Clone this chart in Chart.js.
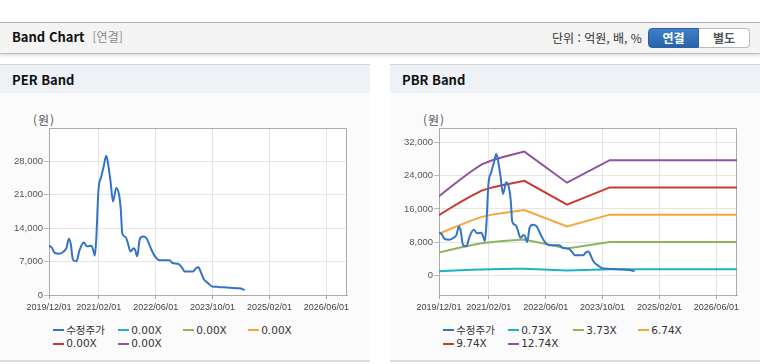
<!DOCTYPE html>
<html lang="ko">
<head>
<meta charset="utf-8">
<title>Band Chart</title>
<script src="https://cdn.jsdelivr.net/npm/chart.js@4.4.1/dist/chart.umd.min.js"></script>
<style>
  html, body { margin: 0; padding: 0; background: #fff; }
  body { width: 760px; height: 364px; position: relative; overflow: hidden; font-family: "Noto Sans CJK KR", "Noto Sans", sans-serif; color: #222; }
  .top-bar { position: absolute; left: 0; top: 22px; width: 760px; height: 30px; background: #f4f4f4; border-top: 1px solid #b0b0b0; border-bottom: 1px solid #bdbdbd; box-shadow: 0 2px 3px rgba(0, 0, 0, 0.12); }
  .top-title { position: absolute; left: 12px; top: 5px; font-size: 13px; font-weight: bold; line-height: 18px; color: #111; }
  .top-title span { color: #8a8a8a; font-weight: normal; font-size: 12px; margin-left: 8px; }
  .unit { position: absolute; left: 552px; top: 6px; font-size: 12px; line-height: 18px; color: #333; }
  .toggle { position: absolute; left: 648px; top: 5px; display: flex; }
  .toggle div { height: 18px; line-height: 18px; text-align: center; font-size: 12px; font-weight: bold; }
  .toggle .on { width: 49px; background: linear-gradient(#3d80c9, #2964aa); color: #fff; border: 1px solid #2a62a5; border-radius: 4px 0 0 4px; }
  .toggle .off { width: 50px; background: #fff; color: #555; border: 1px solid #bbb; border-left: none; border-radius: 0 4px 4px 0; }
  .panel { position: absolute; top: 64px; width: 370px; height: 295px; background: #fbfbfb; border-top: 1px solid #d4d4d4; border-bottom: 2px solid #dcdcdc; }
  .panel-head { height: 28px; line-height: 30px; background: #eef2f7; font-size: 13px; font-weight: bold; padding-left: 12px; color: #111; }
  .unit-label { position: absolute; top: 111px; font-size: 12px; color: #555; letter-spacing: 1px; }
  canvas { position: absolute; top: 100px; }
  .legend { position: absolute; top: 323.6px; width: 270px; display: flex; flex-wrap: wrap; font-family: "DejaVu Sans", "Noto Sans CJK KR", sans-serif; font-size: 10.5px; color: #333; }
  .legend .item { width: 65px; height: 13.4px; line-height: 13.4px; display: flex; align-items: center; white-space: nowrap; }
  .legend .item i { display: inline-block; width: 11px; height: 2px; margin-right: 2.5px; }
</style>
</head>
<body>
<div class="top-bar">
  <div class="top-title">Band Chart<span>[연결]</span></div>
  <div class="unit">단위 : 억원, 배, %</div>
  <div class="toggle"><div class="on">연결</div><div class="off">별도</div></div>
</div>

<div class="panel" style="left:0"><div class="panel-head">PER Band</div></div>
<div class="panel" style="left:390px"><div class="panel-head">PBR Band</div></div>

<div class="unit-label" style="left:33px">(원)</div>
<div class="unit-label" style="left:423px">(원)</div>

<canvas id="perChart" width="370" height="220" style="left:0"></canvas>
<canvas id="pbrChart" width="370" height="220" style="left:390px"></canvas>

<div class="legend" id="perLegend" style="left:52.7px"></div>
<div class="legend" id="pbrLegend" style="left:442.7px"></div>

<script>
// x values are months counted from 2019/12/01
const tickLabels = ["2019/12/01", "2021/02/01", "2022/06/01", "2023/10/01", "2025/02/01", "2026/06/01"];
const xMax = 83.8;

const priceMonths = [0, 0.8, 1.6, 3.0, 4.1, 4.9, 5.6, 6.1, 6.75, 7.7, 8.6, 9.75, 10.7, 11.9, 12.4, 12.9, 13.3, 13.9,
  14.7, 15.4, 16.1, 16.6, 17.3, 18.0, 18.9, 19.7, 20.2, 20.6, 21.6, 22.2, 22.9, 23.8, 24.2, 24.8, 25.5, 26.4,
  27.4, 28.8, 29.7, 31.1, 33.9, 34.7, 36.3, 37.5, 38.1, 40.5, 41.4, 42.0, 42.8, 43.5, 44.7, 45.9, 47.5, 50.8, 53.6, 55.0];
const priceValues = [10400, 9900, 8800, 8650, 9100, 9800, 11800, 10800, 7400, 7050, 9400, 11000, 10200, 10300, 9500, 8300, 11900, 21900,
  24800, 27000, 29200, 27600, 23800, 19600, 22400, 21000, 17800, 12900, 12100, 10800, 9100, 9800, 9500, 8100, 11600, 12250,
  11900, 9500, 8200, 7300, 7300, 6700, 6550, 5650, 4950, 4950, 5650, 5800, 4600, 3350, 2500, 1800, 1700, 1500, 1400, 1050];

const bandMonths = [0, 3, 6, 9, 12, 15, 18, 21, 24, 36, 48, 83.8];
const band073 = [1090, 1210, 1320, 1430, 1530, 1590, 1630, 1670, 1700, 1280, 1590, 1590];
const band373 = [5570, 6170, 6760, 7310, 7810, 8100, 8330, 8520, 8710, 6530, 8110, 8110];
const band674 = [10070, 11150, 12210, 13220, 14120, 14650, 15040, 15390, 15740, 11800, 14650, 14650];
const band974 = [14550, 16120, 17650, 19100, 20410, 21170, 21740, 22250, 22740, 17050, 21170, 21170];
const band1274 = [19030, 21080, 23080, 24980, 26690, 27680, 28440, 29100, 29750, 22300, 27680, 27680];

const priceLabel = "수정주가";
const perBandLabels = ["0.00X", "0.00X", "0.00X", "0.00X", "0.00X"];
const pbrBandLabels = ["0.73X", "3.73X", "6.74X", "9.74X", "12.74X"];

const perYTicks = [0, 7000, 14000, 21000, 28000];
const pbrYTicks = [0, 8000, 16000, 24000, 32000];

const priceColour = "#3474c8";
const bandColours = ["#1cb3c4", "#92b35c", "#f4a83b", "#c8392e", "#8e529e"];

function monthIndex(label) {
  const [y, m, d] = label.split("/").map(Number);
  return (y - 2019) * 12 + (m - 12) + (d - 1) / 30;
}

function points(xs, ys) {
  return xs.map((x, i) => ({ x, y: ys[i] }));
}

const framePlugin = {
  id: "frame",
  beforeDraw(chart) {
    const { ctx, chartArea: a } = chart;
    ctx.save();
    ctx.fillStyle = "#fff";
    ctx.fillRect(a.left, a.top, a.right - a.left, a.bottom - a.top);
    ctx.restore();
  },
  beforeDatasetsDraw(chart) {
    const { ctx, chartArea: a } = chart;
    ctx.save();
    ctx.strokeStyle = "#aaa";
    ctx.lineWidth = 1;
    ctx.beginPath();
    ctx.moveTo(a.left, a.top + 0.5);
    ctx.lineTo(a.right - 0.5, a.top + 0.5);
    ctx.lineTo(a.right - 0.5, a.bottom);
    ctx.stroke();
    ctx.restore();
  }
};

function chartOptions(yMin, yMax, yTicks) {
  return {
    responsive: false,
    animation: false,
    layout: { padding: { top: 28, right: 23, left: 0, bottom: 0 } },
    plugins: { legend: { display: false }, tooltip: { enabled: false } },
    elements: {
      point: { radius: 0 },
      line: { borderWidth: 2, cubicInterpolationMode: "monotone" }
    },
    scales: {
      x: {
        type: "linear",
        min: 0,
        max: xMax,
        afterBuildTicks: scale => { scale.ticks = tickLabels.map(label => ({ value: monthIndex(label) })); },
        afterFit: scale => { scale.height = 25; },
        grid: { color: "#e6e6e6", tickColor: "#aaa", tickLength: 4 },
        border: { color: "#aaa" },
        ticks: {
          autoSkip: false,
          maxRotation: 0,
          padding: 3,
          color: "#444",
          font: { family: "Liberation Sans", size: 9 },
          callback: (value, index) => tickLabels[index]
        }
      },
      y: {
        min: yMin,
        max: yMax,
        afterBuildTicks: scale => { scale.ticks = yTicks.map(value => ({ value })); },
        afterFit: scale => { scale.width = 49; },
        grid: { color: "#e6e6e6", tickColor: "#bbb", tickLength: 5 },
        border: { color: "#aaa" },
        ticks: {
          padding: 1,
          color: "#555",
          font: { family: "Liberation Sans", size: 9.5 },
          callback: value => value.toLocaleString("en-US")
        }
      }
    }
  };
}

function priceDataset() {
  return { label: priceLabel, data: points(priceMonths, priceValues), borderColor: priceColour, backgroundColor: priceColour };
}

function buildLegend(id, chart) {
  document.getElementById(id).innerHTML = chart.data.datasets.map(ds => `
    <span class="item"><i style="background:${ds.borderColor}"></i>${ds.label}</span>
  `).join("");
}

const perChart = new Chart(document.getElementById("perChart"), {
  type: "line",
  data: {
    datasets: [priceDataset()].concat(perBandLabels.map((label, i) => ({
      label, data: [], borderColor: bandColours[i], backgroundColor: bandColours[i]
    })))
  },
  options: chartOptions(0, 35000, perYTicks),
  plugins: [framePlugin]
});

const pbrBands = [band073, band373, band674, band974, band1274];
const pbrChart = new Chart(document.getElementById("pbrChart"), {
  type: "line",
  data: {
    datasets: [priceDataset()].concat(pbrBandLabels.map((label, i) => ({
      label, data: points(bandMonths, pbrBands[i]), borderColor: bandColours[i], backgroundColor: bandColours[i],
      cubicInterpolationMode: "default", tension: 0
    })))
  },
  options: chartOptions(-4600, 35400, pbrYTicks),
  plugins: [framePlugin]
});

buildLegend("perLegend", perChart);
buildLegend("pbrLegend", pbrChart);
</script>
</body>
</html>
